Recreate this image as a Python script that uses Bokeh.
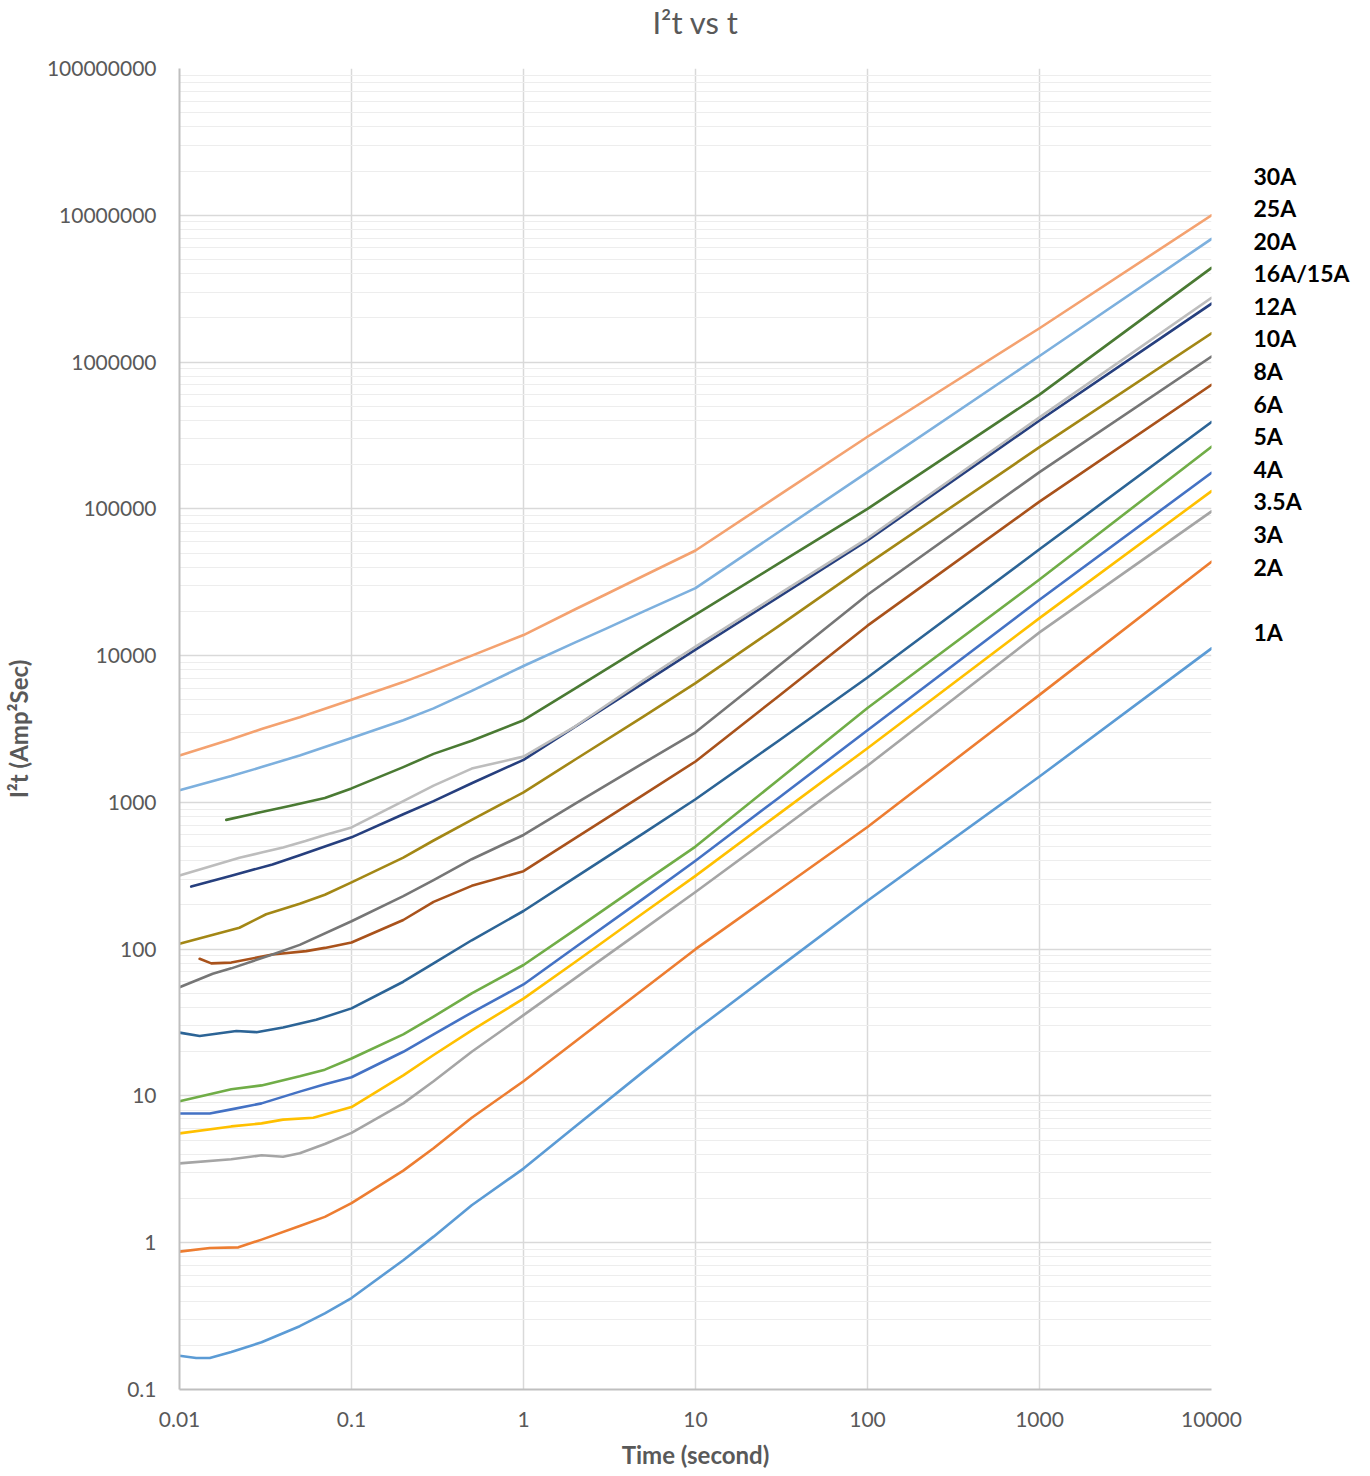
from bokeh.plotting import figure
from bokeh.layouts import row, column
from bokeh.models import FixedTicker, CustomJSTickFormatter
from bokeh.core.properties import value
from bokeh.embed import file_html
from bokeh.resources import INLINE

# ---------------- data ----------------
t_30A = [0.01, 0.02, 0.03, 0.05, 0.1, 0.2, 0.3, 0.5, 1, 2, 3, 5, 10, 30, 100, 1000, 10000]
i2t_30A = [2090, 2690, 3160, 3800, 5000, 6600, 7900, 10000, 13800, 20700, 26100, 35000, 52000, 122000, 310000, 1700000, 10000000]

t_25A = [0.01, 0.02, 0.03, 0.05, 0.1, 0.2, 0.3, 0.5, 1, 2, 3, 5, 10, 30, 100, 1000, 10000]
i2t_25A = [1210, 1510, 1740, 2090, 2750, 3630, 4370, 5750, 8500, 12300, 15200, 20000, 28800, 68700, 178000, 1100000, 6900000]

t_20A = [0.0187, 0.03, 0.0436, 0.07, 0.1, 0.2, 0.3, 0.5, 1, 2, 5, 10, 30, 100, 1000, 10000]
i2t_20A = [760, 860, 944, 1070, 1245, 1740, 2140, 2630, 3630, 5980, 11600, 19000, 42000, 100000, 600000, 4380000]

t_16A = [0.01, 0.0223, 0.03, 0.04, 0.054, 0.07, 0.1, 0.2, 0.3, 0.5, 1, 2, 5, 10, 30, 100, 1000, 10000]
i2t_16A = [318, 420, 455, 492, 545, 600, 675, 1020, 1300, 1700, 2050, 3300, 6820, 11500, 25900, 63000, 420000, 2740000]

t_15A = [0.0117, 0.02, 0.0347, 0.05, 0.1, 0.2, 0.3, 0.5, 1, 2, 5, 10, 30, 100, 1000, 10000]
i2t_15A = [267, 316, 378, 437, 578, 830, 1020, 1350, 1950, 3280, 6520, 11000, 24800, 61000, 400000, 2500000]

t_12A = [0.01, 0.0223, 0.0319, 0.05, 0.07, 0.1, 0.2, 0.3, 0.5, 1, 2, 5, 10, 30, 100, 1000, 10000]
i2t_12A = [109, 140, 173, 204, 235, 285, 420, 550, 760, 1170, 1960, 3860, 6500, 15700, 42000, 263000, 1570000]

t_10A = [0.01, 0.0156, 0.02, 0.0347, 0.05, 0.1, 0.2, 0.3, 0.5, 1, 2, 5, 10, 30, 100, 1000, 10000]
i2t_10A = [55, 68, 74, 92, 107, 155, 230, 295, 410, 600, 980, 1860, 3000, 8390, 26000, 178000, 1090000]

t_8A = [0.0131, 0.0153, 0.02, 0.0347, 0.0545, 0.07, 0.1, 0.2, 0.3, 0.5, 1, 2, 5, 10, 30, 100, 1000, 10000]
i2t_8A = [86, 80, 81, 92, 97, 102, 111, 158, 210, 270, 340, 570, 1130, 1900, 5230, 16000, 112000, 700000]

t_6A = [0.01, 0.0131, 0.0214, 0.028, 0.04, 0.0623, 0.1, 0.2, 0.3, 0.5, 1, 2, 5, 10, 30, 100, 1000, 10000]
i2t_6A = [27, 25.6, 27.7, 27.2, 29.3, 33, 39.5, 60, 80, 115, 182, 308, 618, 1050, 2600, 7100, 53000, 390000]

t_5A = [0.01, 0.02, 0.03, 0.05, 0.07, 0.1, 0.2, 0.3, 0.5, 1, 2, 5, 10, 30, 100, 1000, 10000]
i2t_5A = [9.2, 11.1, 11.8, 13.6, 15.1, 18, 26.3, 34.7, 50, 78, 136, 286, 500, 1410, 4400, 33000, 265000]

t_4A = [0.01, 0.015, 0.02, 0.03, 0.05, 0.07, 0.1, 0.2, 0.3, 0.5, 1, 2, 5, 10, 30, 100, 1000, 10000]
i2t_4A = [7.6, 7.6, 8.1, 8.9, 10.7, 12.0, 13.4, 20, 26.3, 37, 57.5, 103, 222, 400, 1060, 3100, 24000, 176000]

t_3p5A = [0.01, 0.02, 0.03, 0.04, 0.06, 0.1, 0.2, 0.3, 0.5, 1, 2, 5, 10, 30, 100, 1000, 10000]
i2t_3p5A = [5.56, 6.2, 6.5, 6.9, 7.1, 8.4, 13.8, 19, 28, 46, 81.8, 177, 316, 822, 2340, 18000, 132000]

t_3A = [0.01, 0.02, 0.03, 0.04, 0.05, 0.07, 0.1, 0.2, 0.3, 0.5, 1, 2, 5, 10, 30, 100, 1000, 10000]
i2t_3A = [3.47, 3.7, 3.94, 3.85, 4.07, 4.7, 5.6, 8.9, 12.6, 20, 35.5, 63.5, 137, 245, 631, 1780, 14400, 96000]

t_2A = [0.01, 0.015, 0.022, 0.03, 0.05, 0.07, 0.1, 0.2, 0.3, 0.5, 1, 2, 5, 10, 30, 100, 1000, 10000]
i2t_2A = [0.87, 0.92, 0.93, 1.05, 1.3, 1.5, 1.86, 3.1, 4.4, 7.1, 12.6, 23.5, 53.6, 100, 249, 680, 5400, 43600]

t_1A = [0.01, 0.0125, 0.015, 0.02, 0.03, 0.05, 0.07, 0.1, 0.2, 0.3, 0.5, 1, 2, 5, 10, 30, 100, 1000, 10000]
i2t_1A = [0.17, 0.164, 0.164, 0.18, 0.21, 0.27, 0.33, 0.42, 0.76, 1.1, 1.8, 3.2, 6.2, 14.7, 28, 74, 214, 1500, 11200]

label_texts = ["30A", "25A", "20A", "16A/15A", "12A", "10A", "8A", "6A", "5A", "4A", "3.5A", "3A", "2A", "1A"]
x_ticks = [0.01, 0.1, 1, 10, 100, 1000, 10000]
y_ticks = [0.1, 1, 10, 100, 1000, 10000, 100000, 1000000, 10000000, 100000000]
title_text = "I²t vs t"

# ---------------- styling ----------------
series = [
    (t_1A, i2t_1A, "#5B9BD5"),
    (t_2A, i2t_2A, "#ED7D31"),
    (t_3A, i2t_3A, "#A5A5A5"),
    (t_3p5A, i2t_3p5A, "#FFC000"),
    (t_4A, i2t_4A, "#4472C4"),
    (t_5A, i2t_5A, "#70AD47"),
    (t_6A, i2t_6A, "#2C6496"),
    (t_8A, i2t_8A, "#A9521B"),
    (t_10A, i2t_10A, "#767676"),
    (t_12A, i2t_12A, "#A38715"),
    (t_15A, i2t_15A, "#263F7E"),
    (t_16A, i2t_16A, "#BDBDBD"),
    (t_20A, i2t_20A, "#4A7A33"),
    (t_25A, i2t_25A, "#7DB0DE"),
    (t_30A, i2t_30A, "#F4A270"),
]

FONT = "Lato"
GREY = "#595959"
W1 = 1243          # main plot canvas width
W2 = 115           # label column width
TH = 44            # title strip height
TOP = 24
FRAME_H = 1321
BOTTOM = 84
H = TOP + FRAME_H + BOTTOM


def bare(fig):
    fig.grid.visible = False
    fig.outline_line_color = None
    fig.background_fill_color = "white"
    fig.border_fill_color = "white"


# ---- title strip ----
ptitle = figure(width=W1 + W2, height=TH, x_range=(0, W1 + W2), y_range=(0, TH),
                output_backend="svg", toolbar_location=None, title=None,
                x_axis_location=None, y_axis_location=None, min_border=0)
bare(ptitle)
ptitle.text(x=[695], y=[TH - 21], text=[title_text], text_font=value(FONT),
            text_font_size="31px", text_color=GREY, text_align="center", text_baseline="middle")

# ---- main plot ----
p = figure(width=W1, height=H, x_axis_type="log", y_axis_type="log",
           x_range=(0.01, 10000), y_range=(0.1, 1e8),
           output_backend="svg", toolbar_location=None, title=None,
           min_border_left=179, min_border_right=W1 - 179 - 1032,
           min_border_top=TOP, min_border_bottom=BOTTOM)
p.outline_line_color = None
p.background_fill_color = "white"
p.border_fill_color = "white"

y_minor = [k * d for d in y_ticks[:-1] for k in range(2, 10)]
p.xaxis.ticker = FixedTicker(ticks=x_ticks, minor_ticks=[])
p.yaxis.ticker = FixedTicker(ticks=y_ticks, minor_ticks=y_minor)
p.xaxis.formatter = CustomJSTickFormatter(code="return tick < 1 ? tick.toString() : tick.toFixed(0);")
p.yaxis.formatter = CustomJSTickFormatter(code="return tick < 1 ? tick.toString() : tick.toFixed(0);")

for ax in (p.xaxis, p.yaxis):
    ax.axis_line_color = "#BFBFBF"
    ax.axis_line_width = 2
    ax.major_tick_line_color = None
    ax.minor_tick_line_color = None
    ax.major_label_text_font = FONT
    ax.major_label_text_font_size = "21px"
    ax.major_label_text_color = GREY
    ax.axis_label_text_font = FONT
    ax.axis_label_text_font_size = "24px"
    ax.axis_label_text_font_style = "bold"
    ax.axis_label_text_color = GREY

p.xaxis.axis_label = "Time (second)"
p.yaxis.axis_label = "I²t (Amp²Sec)"
p.xaxis.major_label_standoff = 16
p.xaxis.axis_label_standoff = 10
p.yaxis.major_label_standoff = 17
p.yaxis.axis_label_standoff = 11

p.xgrid.grid_line_color = "#D9D9D9"
p.xgrid.grid_line_width = 1.5
p.ygrid.grid_line_color = "#D9D9D9"
p.ygrid.grid_line_width = 1.5
p.ygrid.minor_grid_line_color = "#EDEDED"
p.ygrid.minor_grid_line_width = 1.2

for t, v, c in series:
    p.line(t, v, line_color=c, line_width=2.6, line_join="round", line_cap="round")

# ---- right-hand label column, sharing the log y range ----
p2 = figure(width=W2, height=H, y_axis_type="log", x_range=(0, W2), y_range=p.y_range,
            output_backend="svg", toolbar_location=None, title=None,
            x_axis_location=None, y_axis_location=None,
            min_border_left=0, min_border_right=0, min_border_top=TOP, min_border_bottom=BOTTOM)
bare(p2)

top_log = 7.271
step = 0.222
slots = list(range(13)) + [14]
label_y = [10 ** (top_log - step * s) for s in slots]
p2.text(x=[10] * len(label_texts), y=label_y, text=label_texts,
        text_font=value(FONT), text_font_size="23px", text_font_style="bold",
        text_color="black", text_baseline="middle", text_align="left")

layout = column(ptitle, row(p, p2))
open("out.html", "w").write(file_html(layout, INLINE))
